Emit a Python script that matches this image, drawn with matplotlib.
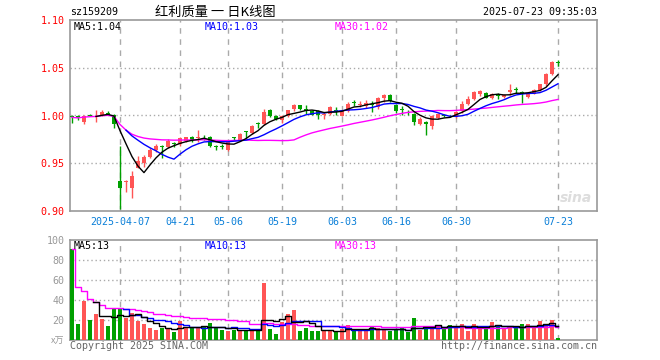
import numpy as np
import pandas as pd
import matplotlib
matplotlib.use('Agg')
from matplotlib import pyplot as plt

# daily candles, 2025-03-25 .. 2025-07-23 (index 0..81)
opens = [0.999, 0.999, 0.993, 1.001, 0.999, 1.000, 1.003, 1.001, 0.931, 0.930,
         0.924, 0.945, 0.950, 0.957, 0.964, 0.968, 0.967, 0.971, 0.970, 0.973,
         0.977, 0.976, 0.978, 0.978, 0.968, 0.968, 0.964, 0.977, 0.974, 0.984,
         0.982, 0.992, 0.991, 1.006, 1.000, 0.995, 0.999, 1.007, 1.0105, 1.007,
         1.005, 1.005, 1.001, 1.002, 1.006, 1.000, 1.005, 1.0135, 1.0115, 1.010,
         1.0115, 1.0087, 1.018, 1.021, 1.0115, 1.006, 1.003, 1.002, 0.991, 0.993,
         0.989, 0.997, 1.000, 0.9995, 0.998, 1.0045, 1.012, 1.017, 1.022, 1.024,
         1.0185, 1.021, 1.019, 1.0245, 1.027, 1.025, 1.019, 1.023, 1.027, 1.0325,
         1.043, 1.0555]
highs = [1.000, 1.000, 1.001, 1.002, 1.006, 1.006, 1.005, 1.002, 0.968, 0.932,
         0.942, 0.958, 0.959, 0.966, 0.970, 0.969, 0.975, 0.972, 0.977, 0.978,
         0.979, 0.985, 0.980, 0.979, 0.969, 0.970, 0.973, 0.978, 0.982, 0.984,
         0.990, 0.993, 1.007, 1.007, 1.001, 1.000, 1.006, 1.012, 1.011, 1.0105,
         1.006, 1.006, 1.004, 1.010, 1.009, 1.006, 1.014, 1.016, 1.015, 1.016,
         1.015, 1.019, 1.023, 1.022, 1.012, 1.010, 1.006, 1.003, 0.998, 0.994,
         1.000, 1.003, 1.002, 1.001, 1.005, 1.015, 1.020, 1.026, 1.027, 1.025,
         1.024, 1.024, 1.023, 1.0335, 1.030, 1.026, 1.024, 1.028, 1.033, 1.044,
         1.0575, 1.058]
lows = [0.992, 0.995, 0.991, 0.999, 0.993, 0.999, 1.001, 0.987, 0.902, 0.920,
        0.914, 0.945, 0.946, 0.955, 0.962, 0.956, 0.966, 0.967, 0.968, 0.972,
        0.972, 0.972, 0.974, 0.967, 0.964, 0.965, 0.963, 0.974, 0.973, 0.976,
        0.981, 0.987, 0.990, 0.998, 0.995, 0.992, 0.998, 1.005, 1.006, 1.002,
        1.000, 0.996, 0.996, 1.001, 1.001, 0.999, 1.004, 1.010, 1.009, 1.008,
        1.004, 1.007, 1.014, 1.014, 1.003, 1.001, 1.000, 0.990, 0.990, 0.980,
        0.986, 0.996, 0.998, 0.998, 0.997, 1.003, 1.011, 1.016, 1.020, 1.018,
        1.017, 1.017, 1.018, 1.021, 1.024, 1.013, 1.018, 1.022, 1.026, 1.031,
        1.042, 1.0515]
closes = [0.998, 0.997, 1.000, 1.000, 1.000, 1.004, 1.002, 0.991, 0.924, 0.931,
          0.937, 0.952, 0.957, 0.964, 0.968, 0.967, 0.973, 0.970, 0.976, 0.977,
          0.974, 0.977, 0.977, 0.968, 0.967, 0.967, 0.972, 0.976, 0.981, 0.983,
          0.9895, 0.991, 1.004, 1.000, 0.996, 0.999, 1.0055, 1.0105, 1.007, 1.0045,
          1.001, 1.001, 1.002, 1.009, 1.005, 1.005, 1.0125, 1.013, 1.012, 1.013,
          1.011, 1.018, 1.021, 1.015, 1.0045, 1.0055, 1.0025, 0.993, 0.996, 0.9906,
          0.999, 1.002, 0.9995, 0.999, 1.004, 1.012, 1.0175, 1.025, 1.0255, 1.0185,
          1.022, 1.0205, 1.021, 1.0265, 1.0265, 1.022, 1.023, 1.027, 1.0325, 1.043,
          1.056, 1.055]
# volume in 万
volumes = [91, 16, 39, 20, 26, 21, 14, 31.7, 31.7, 22,
           27, 19, 16, 12, 10, 12, 12, 8, 19, 12,
           12, 13, 12.6, 17, 12, 10, 9, 10, 10, 10,
           10, 10.7, 57, 11, 6, 18, 26, 30, 9, 12,
           9, 9, 9, 10, 8, 11, 15, 10.7, 10, 10,
           13, 12, 10, 9, 10, 12, 7.7, 22, 10, 12.7,
           14, 15, 13, 15, 13, 15.7, 9, 16, 13, 12,
           17.7, 15, 11, 13, 12, 16, 16, 13, 19, 15,
           20, 2.3]

tick_idx = [8, 18, 26, 35, 45, 54, 64, 81]
tick_labels = ['2025-04-07', '04-21', '05-06', '05-19', '06-03', '06-16', '06-30', '07-23']
price_ticks = [0.90, 0.95, 1.00, 1.05, 1.10]
vol_ticks = [20, 40, 60, 80, 100]

RED = '#ff5555'
GREEN = '#00a000'
GRID = '#aaaaaa'
FRAME = '#999999'
MONO = 'DejaVu Sans Mono'

df = pd.DataFrame({'o': opens, 'h': highs, 'l': lows, 'c': closes, 'v': volumes})
x = np.arange(len(df))
up = df['c'] >= df['o']
colors = np.where(up, RED, GREEN)

ma5 = df['c'].rolling(5, min_periods=5).mean()
ma10 = df['c'].rolling(10, min_periods=10).mean()
ma30 = df['c'].rolling(30, min_periods=1).mean()
vma5 = df['v'].rolling(5, min_periods=5).mean()
vma10 = df['v'].rolling(10, min_periods=10).mean()
vma30 = df['v'].rolling(30, min_periods=1).mean()

fig = plt.figure(figsize=(6.6, 3.6), dpi=100)
ax = fig.add_axes([70 / 660, 1 - 211 / 360, 527 / 660, 191 / 360])
axv = fig.add_axes([70 / 660, 1 - 340 / 360, 527 / 660, 100 / 360])

xlim = (-0.33, 87.5)

# candles
ax.vlines(x, df['l'], df['h'], colors=colors, linewidth=1, zorder=3)
body_lo = np.minimum(df['o'], df['c'])
body_h = np.maximum(np.abs(df['c'] - df['o']), 0.0008)
ax.bar(x, body_h, bottom=body_lo, width=0.7, color=colors, linewidth=0, zorder=4)

ax.plot(x, ma30, color='#ff00ff', linewidth=1, zorder=5)
ax.plot(x, ma10, color='#0000ff', linewidth=1, zorder=5)
ax.plot(x, ma5, color='black', linewidth=1, zorder=5)

ax.set_xlim(*xlim)
ax.set_ylim(0.90, 1.10)
ax.set_yticks(price_ticks)
ax.set_yticklabels(['%.2f' % t for t in price_ticks], color='red', fontfamily=MONO, fontsize=7.2)
ax.set_xticks(tick_idx)
ax.set_xticklabels(tick_labels, color='#0a7fd8', fontfamily=MONO, fontsize=7.2)
ax.tick_params(length=0, pad=4)
for t in tick_idx:
    ax.axvline(t, color=GRID, linestyle=(0, (4, 4)), linewidth=1, zorder=1)
for p in [0.95, 1.00, 1.05]:
    ax.axhline(p, color=GRID, linestyle=(0, (1, 2)), linewidth=1, zorder=1)
for s in ax.spines.values():
    s.set_color(FRAME)
    s.set_linewidth(1.2)

ax.text(0.96, 0.07, 'sina', transform=ax.transAxes, ha='center', va='center',
        fontsize=10, fontweight='bold', fontstyle='italic', color='#dddddd', zorder=2)

# volume
axv.bar(x, df['v'], width=0.75, color=colors, linewidth=0, zorder=3)
axv.plot(x, vma30, color='#ff00ff', linewidth=1, drawstyle='steps-mid', zorder=4)
axv.plot(x, vma10, color='#0000ff', linewidth=1, drawstyle='steps-mid', zorder=4)
axv.plot(x, vma5, color='black', linewidth=1, drawstyle='steps-mid', zorder=4)
axv.set_xlim(*xlim)
axv.set_ylim(0, 100)
axv.set_yticks(vol_ticks)
axv.set_yticklabels([str(t) for t in vol_ticks], color='#999999', fontfamily=MONO, fontsize=7.2)
axv.set_xticks([])
axv.tick_params(length=0, pad=4)
for t in tick_idx:
    axv.axvline(t, color=GRID, linestyle=(0, (4, 4)), linewidth=1, zorder=1)
for v in [20, 40, 60, 80]:
    axv.axhline(v, color=GRID, linestyle=(0, (1, 2)), linewidth=1, zorder=1)
for s in axv.spines.values():
    s.set_color(FRAME)
    s.set_linewidth(1.2)

# header and labels
fy = 1 - 12 / 360
fig.text(70 / 660, fy, 'sz159209', fontfamily=MONO, fontsize=7.2, va='center', ha='left')
fig.text(215 / 660, fy, '红利质量 一 日K线图', fontfamily=['Noto Sans CJK SC', 'DejaVu Sans'],
         fontsize=9.5, va='center', ha='center')
fig.text(597 / 660, fy, '2025-07-23 09:35:03', fontfamily=MONO, fontsize=7.2, va='center', ha='right')

my = 1 - 27 / 360
fig.text(74 / 660, my, 'MA5:%.2f' % ma5.iloc[-1], color='black', fontfamily=MONO, fontsize=7.2, va='center')
fig.text(205 / 660, my, 'MA10:%.2f' % ma10.iloc[-1], color='#0000ff', fontfamily=MONO, fontsize=7.2, va='center')
fig.text(335 / 660, my, 'MA30:%.2f' % ma30.iloc[-1], color='#ff00ff', fontfamily=MONO, fontsize=7.2, va='center')

vy = 1 - 246 / 360
fig.text(74 / 660, vy, 'MA5:%d' % int(vma5.iloc[-1]), color='black', fontfamily=MONO, fontsize=7.2, va='center')
fig.text(205 / 660, vy, 'MA10:%d' % int(vma10.iloc[-1]), color='#0000ff', fontfamily=MONO, fontsize=7.2, va='center')
fig.text(335 / 660, vy, 'MA30:%d' % int(vma30.iloc[-1]), color='#ff00ff', fontfamily=MONO, fontsize=7.2, va='center')

fig.text(64 / 660, 1 - 341 / 360, 'x万', color='#999999', fontfamily=['Noto Sans CJK SC', 'DejaVu Sans'],
         fontsize=6.5, va='center', ha='right')
cy = 1 - 346 / 360
fig.text(70 / 660, cy, 'Copyright 2025 SINA.COM', color='#666666', fontfamily=MONO, fontsize=7.2, va='center')
fig.text(597 / 660, cy, 'http://finance.sina.com.cn', color='#666666', fontfamily=MONO, fontsize=7.2,
         va='center', ha='right')

fig.savefig('out.png', dpi=100)
